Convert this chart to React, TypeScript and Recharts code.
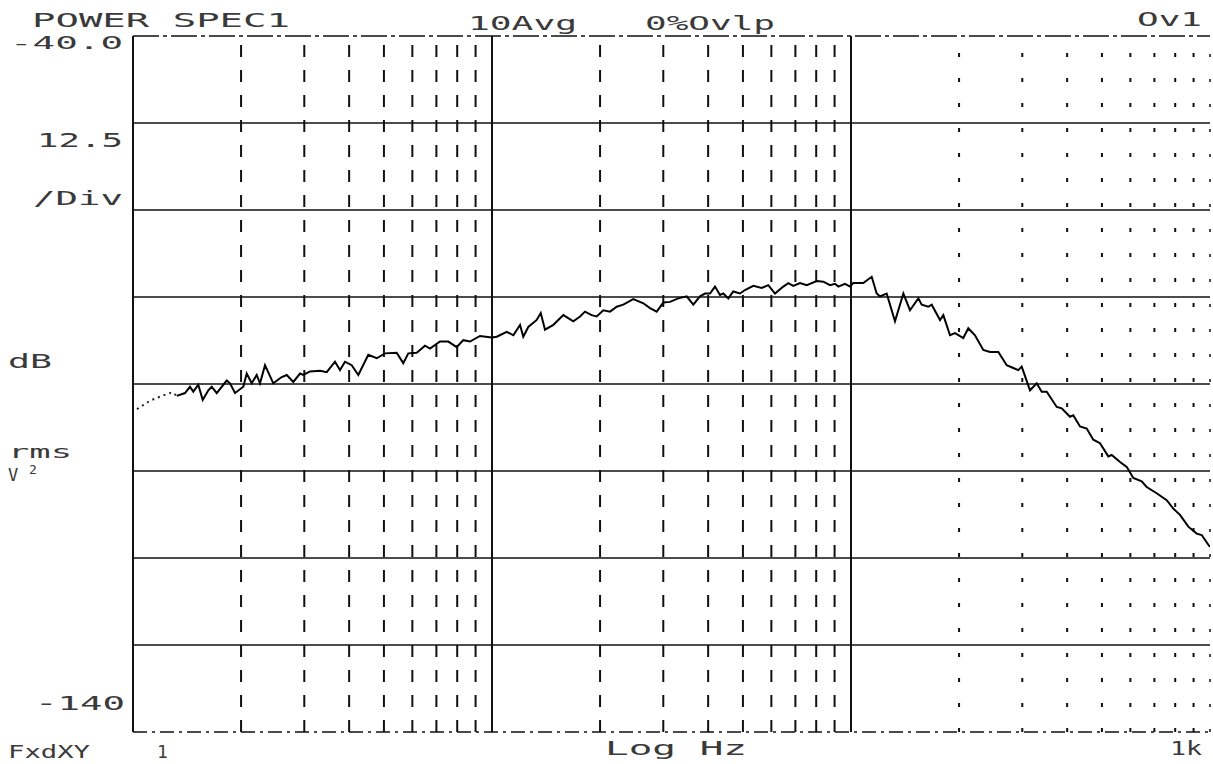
import React from 'react';
import { LineChart, Line, XAxis, YAxis, ReferenceLine } from 'recharts';

// lead-in of the trace (drawn dotted on the analyser plot)
const leadFreqHz = [1.026, 1.115, 1.204, 1.284];
const leadDb = [-93.6, -92.4, -91.7, -91.2];

// power spectrum trace, Hz / dB rms V^2
const freqHz = [
  1.324, 1.396, 1.441, 1.472, 1.52, 1.564, 1.621, 1.657, 1.711, 1.824,
  1.863, 1.924, 2.029, 2.074, 2.141, 2.211, 2.258, 2.332, 2.459, 2.596,
  2.681, 2.796, 2.919, 2.981, 3.112, 3.318, 3.464, 3.653, 3.772, 3.895,
  4.066, 4.242, 4.523, 4.773, 5.034, 5.426, 5.66, 5.846, 6.17, 6.506,
  6.72, 7.165, 7.556, 7.973, 8.318, 8.683, 9.26, 9.98, 10.31, 10.99,
  11.47, 11.97, 12.22, 12.62, 13.32, 13.67, 14.05, 14.82, 15.8, 16.85,
  17.59, 18.16, 18.95, 19.57, 20.42, 21.32, 22.25, 23.21, 24.75, 26.4,
  27.55, 28.76, 30.01, 31.32, 33.04, 34.86, 36.37, 37.96, 39.2, 40.48,
  41.8, 43.16, 44.09, 45.52, 46.99, 49.06, 50.66, 53.44, 56.39, 58.83,
  61.42, 64.77, 66.88, 69.07, 72.1, 75.27, 80.27, 83.73, 87.42, 90.25,
  92.17, 96.24, 99.36, 101.5, 108.2, 114.2, 117.9, 120.4, 125.7, 132.6,
  139.9, 146.0, 154.0, 157.4, 164.2, 167.8, 177.0, 180.8, 188.7, 194.9,
  205.5, 212.2, 221.5, 233.6, 243.9, 257.3, 271.5, 283.2, 292.4, 298.9,
  315.2, 329.1, 339.8, 350.9, 374.2, 386.4, 407.4, 416.1, 434.4, 453.5,
  473.1, 493.9, 520.9, 532.4, 561.6, 586.1, 611.5, 645.2, 666.3, 710.4,
  757.5, 790.3, 825.0, 870.2, 918.4, 948.2, 989.3, 1000,
];
const levelDb = [
  -91.7, -91.3, -90.4, -91.1, -90.1, -92.3, -90.9, -90.4, -91.3, -89.5,
  -89.9, -91.3, -90.4, -88.5, -89.9, -88.7, -89.9, -87.3, -89.9, -89.0,
  -88.7, -89.7, -88.5, -88.7, -88.2, -88.1, -88.3, -86.8, -88.0, -86.8,
  -87.3, -88.7, -85.8, -86.3, -85.6, -85.5, -87.0, -85.6, -85.5, -84.5,
  -84.9, -83.9, -83.9, -84.7, -83.7, -83.9, -83.1, -83.3, -83.2, -82.5,
  -83.0, -81.5, -83.2, -81.8, -80.8, -79.8, -82.2, -81.5, -80.1, -81.0,
  -80.3, -79.6, -80.1, -80.3, -79.4, -79.6, -78.9, -78.6, -77.8, -78.4,
  -79.1, -79.6, -78.3, -78.2, -77.7, -77.4, -78.6, -77.4, -77.0, -77.0,
  -76.0, -77.2, -77.0, -77.7, -76.7, -77.0, -76.5, -75.9, -76.2, -75.8,
  -77.0, -76.0, -75.5, -75.9, -75.5, -75.8, -75.2, -75.3, -75.8, -75.6,
  -76.0, -75.6, -76.0, -75.5, -75.5, -74.6, -77.0, -77.4, -77.0, -81.0,
  -77.0, -79.4, -77.7, -78.6, -78.9, -78.6, -80.8, -80.1, -83.0, -82.7,
  -83.4, -82.0, -83.0, -85.1, -85.4, -85.4, -87.3, -87.7, -88.0, -87.5,
  -90.9, -89.9, -91.1, -91.1, -93.3, -93.5, -94.7, -94.5, -96.1, -96.4,
  -98.0, -98.5, -100.4, -100.2, -101.2, -101.9, -103.5, -104.0, -104.8, -105.7,
  -106.7, -107.9, -108.8, -110.5, -111.5, -111.7, -113.1, -113.4,
];

// grid
const dashedHz = [2, 3, 4, 5, 6, 7, 8, 9, 20, 30, 40, 50, 60, 70, 80, 90];
const dottedHz = [200, 300, 400, 500, 600, 700, 800, 900];
const decadeHz = [10, 100];
const levelGrid = [-52.5, -65, -77.5, -90, -102.5, -115, -127.5];
const yTop = -40;
const yBottom = -140;

const title = 'POWER SPEC1';
const avgLabel = '10Avg';
const ovlpLabel = '0%Ovlp';
const ovLabel = 'Ov1';
const topTick = '-40.0';
const bottomTick = '-140';
const xStart = '1';
const xEnd = '1k';

const rows = [
  ...leadFreqHz.map((f, i) => ({ f, lead: leadDb[i] })),
  ...freqHz.map((f, i) => ({ f, db: levelDb[i], lead: i === 0 ? levelDb[0] : undefined })),
];

const txt = { fontFamily: '"DejaVu Sans Mono", monospace', fontSize: 19, fill: '#3a3a3a' };

export default function App() {
  return (
    <div style={{ position: 'fixed', left: 0, top: 0, width: 1213, height: 764, background: '#fff' }}>
      <LineChart width={1213} height={764} data={rows} margin={{ top: 36, right: 3, bottom: 32, left: 133 }}>
        <XAxis type="number" dataKey="f" scale="log" domain={[1, 1000]} hide allowDataOverflow />
        <YAxis type="number" domain={[yBottom, yTop]} hide allowDataOverflow />
        {dashedHz.map((v) => (
          <ReferenceLine key={'d' + v} x={v} stroke="#111" strokeWidth={2} strokeDasharray="12 13" />
        ))}
        {dottedHz.map((v) => (
          <ReferenceLine key={'o' + v} x={v} stroke="#111" strokeWidth={2} strokeDasharray="4 21" />
        ))}
        {levelGrid.map((v) => (
          <ReferenceLine key={'h' + v} y={v} stroke="#111" strokeWidth={1.6} />
        ))}
        <ReferenceLine y={yTop} stroke="#111" strokeWidth={1.6} strokeDasharray="26 4 4 4" />
        <ReferenceLine y={yBottom} stroke="#111" strokeWidth={1.6} strokeDasharray="14 5 3 5" />
        <ReferenceLine x={1} stroke="#111" strokeWidth={2} />
        <ReferenceLine x={1000} stroke="#111" strokeWidth={1.5} strokeDasharray="3 22" />
        {decadeHz.map((v) => (
          <ReferenceLine key={'m' + v} x={v} stroke="#111" strokeWidth={2} />
        ))}
        <Line dataKey="lead" stroke="#222" strokeWidth={2} strokeDasharray="2 4" dot={false} isAnimationActive={false} />
        <Line dataKey="db" stroke="#000" strokeWidth={2} dot={false} isAnimationActive={false} />
      </LineChart>
      <svg width={1213} height={764} style={{ position: 'absolute', left: 0, top: 0, pointerEvents: 'none' }}>
        <text {...txt} x={32} y={27} textLength={258} lengthAdjust="spacingAndGlyphs">{title}</text>
        <text {...txt} x={468} y={30} textLength={109} lengthAdjust="spacingAndGlyphs">{avgLabel}</text>
        <text {...txt} x={645} y={30} textLength={130} lengthAdjust="spacingAndGlyphs">{ovlpLabel}</text>
        <text {...txt} x={1137} y={26} textLength={65} lengthAdjust="spacingAndGlyphs">{ovLabel}</text>
        <text {...txt} fontSize={18} x={10} y={49} textLength={113} lengthAdjust="spacingAndGlyphs">{topTick}</text>
        <text {...txt} x={37} y={147} textLength={86} lengthAdjust="spacingAndGlyphs">12.5</text>
        <text {...txt} x={33} y={205} textLength={90} lengthAdjust="spacingAndGlyphs">/Div</text>
        <text {...txt} x={8} y={368} textLength={44} lengthAdjust="spacingAndGlyphs">dB</text>
        <text {...txt} fontSize={18} x={8} y={458} textLength={64} lengthAdjust="spacingAndGlyphs">rms</text>
        <text {...txt} fontSize={17} x={8} y={481}>V</text>
        <text {...txt} fontSize={13} x={29} y={474}>2</text>
        <text {...txt} x={35} y={710} textLength={90} lengthAdjust="spacingAndGlyphs">{bottomTick}</text>
        <text {...txt} fontSize={18} x={8} y={758} textLength={82} lengthAdjust="spacingAndGlyphs">FxdXY</text>
        <text {...txt} fontSize={18} x={157} y={758}>{xStart}</text>
        <text {...txt} x={605} y={755} textLength={142} lengthAdjust="spacingAndGlyphs">Log Hz</text>
        <text {...txt} x={1170} y={755} textLength={32} lengthAdjust="spacingAndGlyphs">{xEnd}</text>
      </svg>
    </div>
  );
}
